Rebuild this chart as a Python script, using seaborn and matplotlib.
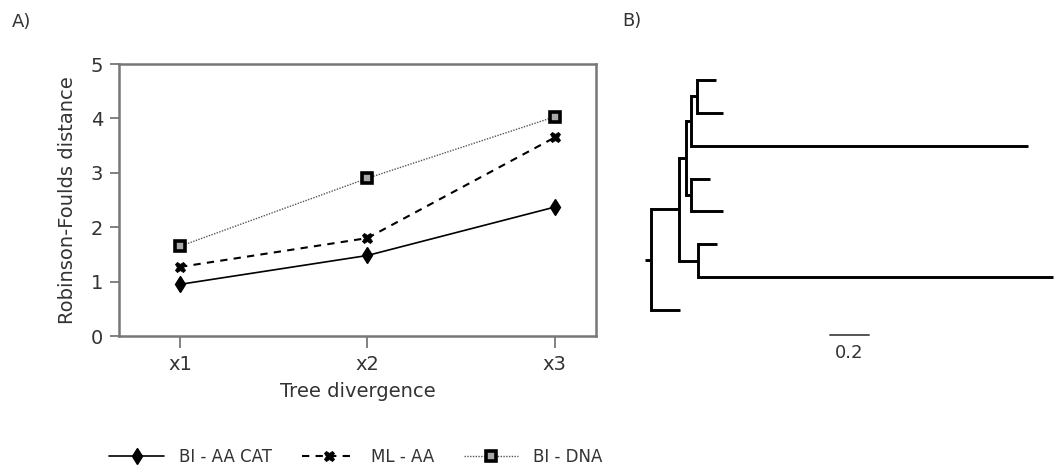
import matplotlib
matplotlib.use("Agg")
import matplotlib.pyplot as plt
import numpy as np
import pandas as pd
import seaborn as sns

# ── Data ──────────────────────────────────────────────────────────────────────

divergence = ["x1", "x2", "x3"]
methods = ["BI - AA CAT", "ML - AA", "BI - DNA"]
bi_aa_cat = [0.95, 1.48, 2.37]
ml_aa = [1.27, 1.80, 3.65]
bi_dna = [1.65, 2.90, 4.03]

# tree: parent index and branch length for every node (node 0 is the root)
node_parent = [-1, 0, 0, 1, 1, 3, 3, 5, 5, 7, 7, 6, 6, 4, 4]
branch_len = [0.03, 0.145, 0.15, 0.034, 0.094, 0.026, 0.026, 0.03,
              1.728, 0.10, 0.133, 0.10, 0.164, 0.10, 1.82]
scale_bar = 0.2

# ── Style ─────────────────────────────────────────────────────────────────────

sns.set_theme(style="ticks")
plt.rcParams["font.family"] = ["DejaVu Sans"]
FRAME = "#777777"
TEXT = "#333333"

fig = plt.figure(figsize=(10.55, 4.68), dpi=100)

# ── A) Robinson-Foulds distance ───────────────────────────────────────────────

ax = fig.add_axes([119 / 1055, 132 / 468, 477 / 1055, 272 / 468])

df = pd.DataFrame({
    "pos": list(range(len(divergence))) * 3,
    "value": bi_aa_cat + ml_aa + bi_dna,
    "method": np.repeat(methods, len(divergence)),
})

sns.lineplot(
    data=df, x="pos", y="value", hue="method", style="method",
    palette={m: "black" for m in methods},
    markers={"BI - AA CAT": "d", "ML - AA": "X", "BI - DNA": "s"},
    dashes={"BI - AA CAT": "", "ML - AA": (3.5, 3), "BI - DNA": (1, 1)},
    markersize=8, linewidth=1.2, ax=ax, legend=True,
)


def restyle(line, m):
    line.set_markeredgecolor("black")
    if m == "BI - AA CAT":
        line.set_markersize(8.5)
        line.set_markeredgewidth(1.0)
    elif m == "ML - AA":
        line.set_linewidth(1.5)
        line.set_markersize(7.5)
        line.set_markeredgewidth(0.6)
    else:
        line.set_color("#555555")
        line.set_linewidth(1.0)
        line.set_markerfacecolor("#a8a8a8")
        line.set_markeredgecolor("black")
        line.set_markeredgewidth(2.6)
        line.set_markersize(6.5)


for line, m in zip(ax.lines, methods):
    restyle(line, m)

ax.set_xlim(-0.326, 2.22)
ax.set_ylim(0, 5)
ax.set_xticks(range(len(divergence)))
ax.set_xticklabels(divergence)
ax.set_yticks(range(0, 6))
ax.set_xlabel("Tree divergence", fontsize=14, labelpad=6, color=TEXT)
ax.set_ylabel("Robinson-Foulds distance", fontsize=14, labelpad=10, color=TEXT)
ax.tick_params(axis="both", labelsize=14, labelcolor=TEXT, width=1.3,
               color=FRAME, pad=5)
ax.tick_params(axis="x", length=8.5)
ax.tick_params(axis="y", length=6.5)
for sp in ax.spines.values():
    sp.set_color(FRAME)
    sp.set_linewidth(1.8)

handles, labels = ax.get_legend_handles_labels()
ax.legend_.remove()
for h, m in zip(handles, labels):
    restyle(h, m)
fig.legend(handles, labels, loc="center", bbox_to_anchor=(356 / 1055, 1 - 457 / 468),
           ncol=3, frameon=False, fontsize=12, handlelength=3.25,
           columnspacing=1.8, handletextpad=0.9, labelcolor=TEXT)

fig.text(12 / 1055, 1 - 22 / 468, "A)", fontsize=13, va="center", color=TEXT)

# ── B) Phylogenetic tree ──────────────────────────────────────────────────────

n_nodes = len(node_parent)
children = {i: [] for i in range(n_nodes)}
for i, p in enumerate(node_parent):
    if p >= 0:
        children[p].append(i)

depth = np.zeros(n_nodes)
ypos = np.zeros(n_nodes)
leaf_counter = [0]


def layout(node, d):
    depth[node] = d
    if not children[node]:
        ypos[node] = leaf_counter[0]
        leaf_counter[0] += 1
        return
    for c in children[node]:
        layout(c, d + branch_len[c])
    ypos[node] = np.mean([ypos[c] for c in children[node]])


layout(0, 0.0)

px_per_unit = 195
leaf_px = 32.86
tx0, tx1 = 620, 1055
ty0, ty1 = 60, 375
axt = fig.add_axes([tx0 / 1055, 1 - ty1 / 468, (tx1 - tx0) / 1055,
                    (ty1 - ty0) / 468])
axt.set_xlim((tx0 - 651) / px_per_unit, (tx1 - 651) / px_per_unit)
axt.set_ylim((ty1 - 80) / leaf_px, (ty0 - 80) / leaf_px)
axt.axis("off")

tree_kw = dict(color="black", lw=2.1, solid_capstyle="butt")
# root stub
axt.plot([-branch_len[0], 0], [ypos[0], ypos[0]], **tree_kw)
for node in range(1, n_nodes):
    p = node_parent[node]
    axt.plot([depth[p], depth[node]], [ypos[node], ypos[node]], **tree_kw)
for node in range(n_nodes):
    if children[node]:
        ys = [ypos[c] for c in children[node]]
        axt.plot([depth[node], depth[node]], [min(ys), max(ys)],
                 color="black", lw=2.1, solid_capstyle="projecting")

# scale bar
bar_x = (830 - 651) / px_per_unit
bar_y = (335 - 80) / leaf_px
axt.plot([bar_x, bar_x + scale_bar], [bar_y, bar_y], color="#555555", lw=1.4)
axt.text(bar_x + scale_bar / 2, (353 - 80) / leaf_px, f"{scale_bar}",
         ha="center", va="center", fontsize=13, color=TEXT)

fig.text(622 / 1055, 1 - 21 / 468, "B)", fontsize=13, va="center", color=TEXT)

fig.savefig("out.png", dpi=100)
plt.close(fig)
